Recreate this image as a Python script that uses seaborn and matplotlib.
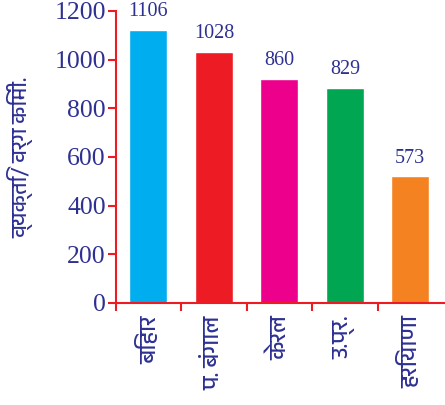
import matplotlib
matplotlib.use("Agg")
import matplotlib.pyplot as plt
from matplotlib import font_manager
from matplotlib.ft2font import FT2Font
import seaborn as sns
import pandas as pd

# ---- data ----
states = ["बिहार", "प. बंगाल", "केरल", "उ.प्र.", "हरियाणा"]
bar_heights = [1123, 1032, 922, 885, 521]   # heights as drawn in the picture
value_labels = ["1106", "1028", "860", "829", "573"]
bar_colors = ["#00AEEF", "#ED1C24", "#EC008C", "#00A651", "#F58220"]
y_ticks = [0, 200, 400, 600, 800, 1000, 1200]
y_label = "व्यक्ति/ वर्ग किमी."

# ---- find a Devanagari-capable font ----
def find_deva():
    cands = []
    for f in font_manager.fontManager.ttflist:
        try:
            ft = FT2Font(f.fname)
            if ft.get_char_index(ord("ब")) and ft.get_char_index(ord("ि")):
                cands.append(f.name)
        except Exception:
            pass
    pref = [c for c in cands if "Devanagari" in c]
    if pref:
        return pref[0]
    return cands[0] if cands else "DejaVu Sans"

deva = find_deva()

sns.set_theme(style="white")
plt.rcParams["font.family"] = [deva, "DejaVu Sans"]

navy = "#2E3192"
red = "#ED1C24"

df = pd.DataFrame({"state": states, "value": bar_heights})

fig = plt.figure(figsize=(4.45, 4.05), dpi=100)
ax = fig.add_axes([0.26, 0.252, 0.74, 0.721])

sns.barplot(data=df, x="state", y="value", hue="state", palette=bar_colors,
            legend=False, width=0.58, ax=ax, saturation=1)

for p, lab in zip(ax.patches, value_labels):
    ax.annotate(lab, (p.get_x() + p.get_width() / 2, p.get_height()),
                xytext=(0, 6), textcoords="offset points",
                ha="center", va="bottom", color=navy, fontsize=14.5,
                family="Liberation Serif")

ax.set_ylim(0, 1200)
ax.set_xlim(-0.5, 4.53)
ax.set_yticks(y_ticks)
ax.set_yticklabels([str(t) for t in y_ticks], family="Liberation Serif",
                   fontsize=18.5, color=navy)

ax.set_xticks([i - 0.5 for i in range(len(states))], minor=False)
ax.set_xticklabels([""] * len(states))
ax.set_xticks(range(len(states)), minor=True)
ax.set_xticklabels(states, minor=True, rotation=90, fontsize=16.5, color=navy,
                   va="top", ha="center")
ax.tick_params(axis="x", which="minor", length=0, pad=9, bottom=True)
ax.tick_params(axis="x", which="major", length=6, width=1.5, color=red,
               direction="out", bottom=True)
ax.tick_params(axis="y", length=6, width=1.5, color=red, direction="out",
               pad=1, left=True)

for s in ["top", "right"]:
    ax.spines[s].set_visible(False)
for s in ["left", "bottom"]:
    ax.spines[s].set_color(red)
    ax.spines[s].set_linewidth(1.5)

ax.set_xlabel("")
ax.set_ylabel(y_label, fontsize=15.5, color=navy, va="center")
ax.yaxis.set_label_coords(-0.29, 0.5)

fig.savefig("out.png", dpi=100)
